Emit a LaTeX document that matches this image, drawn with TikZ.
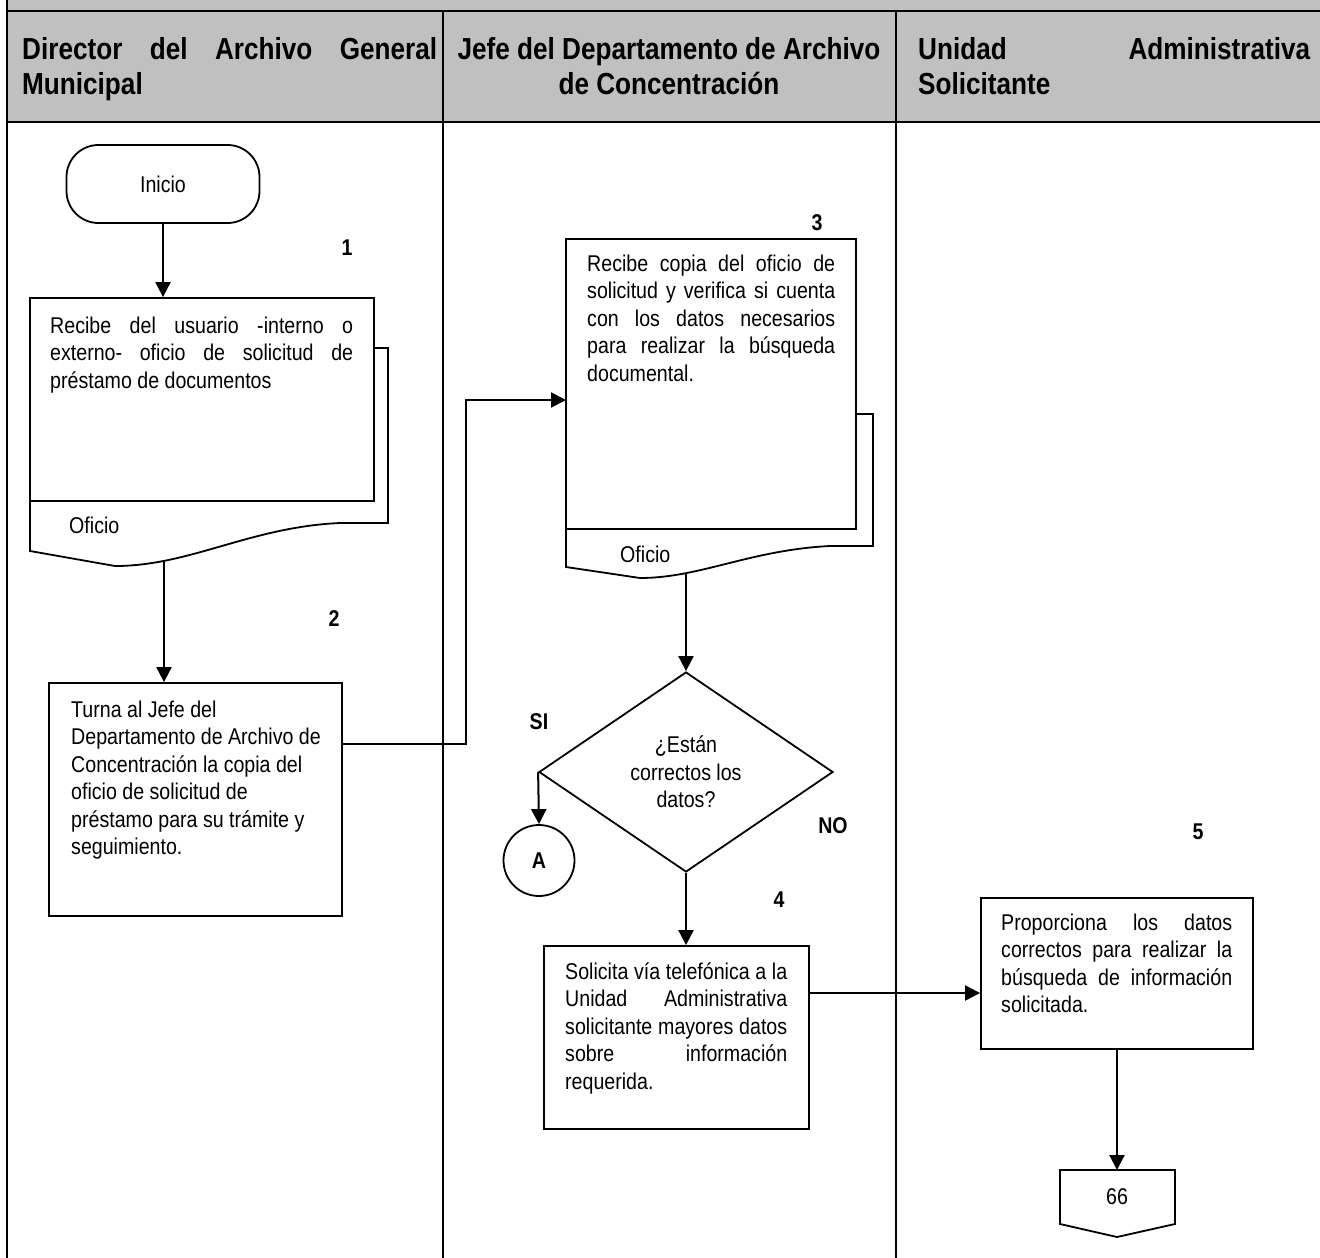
\documentclass[tikz,border=0pt]{standalone}
\usepackage{fontspec}
\newfontfamily\nar{Liberation Sans}[FakeStretch=0.86]
\usetikzlibrary{arrows.meta,shapes.geometric}
\definecolor{hdr}{RGB}{192,192,192}
\newcommand\jl[2]{\makebox[#1][s]{#2}}
\begin{document}
\begin{tikzpicture}[x=1pt,y=-1pt,
  body/.style={font=\nar\fontsize{22.8}{27.5}\selectfont, inner sep=0pt},
  hd/.style={font=\nar\bfseries\fontsize{30.4}{35}\selectfont, inner sep=0pt},
  num/.style={font=\nar\bfseries\fontsize{22.8}{27.5}\selectfont, inner sep=0pt},
  frame/.style={line width=2.6pt},
  shp/.style={line width=1.8pt},
  box/.style 2 args={draw, line width=1.8pt, minimum width=#1, minimum height=#2, inner sep=0pt},
  arr/.style={line width=2pt, -{Triangle[length=15pt,width=15pt]}},
  txt/.style={body, align=left, anchor=north west}]
\useasboundingbox (0,0) rectangle (1320,1258);
% frame
\fill[hdr] (7,0) rectangle (1320,122);
\draw[frame] (7,0) -- (7,1258);
\draw[frame] (7,11) -- (1320,11);
\draw[frame] (7,122) -- (1320,122);
\draw[frame] (443,11) -- (443,1258);
\draw[frame] (896,11) -- (896,1258);
% headers
\node[hd, align=left, anchor=north west] (h1) at (22,34.5) {\strut\jl{415pt}{Director del Archivo General}\\Municipal};
\node[hd, align=center, anchor=north] (h2) at (669,34.5) {\strut Jefe del Departamento de Archivo\\de Concentración};
\node[hd, align=left, anchor=north west] (h3) at (918,34.5) {\strut\jl{392pt}{Unidad Administrativa}\\Solicitante};
% lane 1
\node[draw, line width=1.8pt, rounded corners=32pt, minimum width=193pt, minimum height=78pt, body] (inicio) at (163,184) {Inicio};
\node[num] (n1) at (347,248) {1};
\node[box={344pt}{203pt}] (d1) at (202,399.5) {};
\draw[shp] (374,348) -- (388,348) -- (388,523) -- (340,523) .. controls (250,527) and (190,566) .. (115,566) -- (30,551) -- (30,501);
\coordinate (d1b) at (164,561);
\node[txt] (t1) at (50,314) {\strut\jl{303pt}{Recibe del usuario -interno o}\\\jl{303pt}{externo- oficio de solicitud de}\\préstamo de documentos};
\node[body, anchor=base west] (o1) at (69,533) {Oficio};
\node[num] (n2) at (334,619) {2};
\node[box={293pt}{233pt}] (b2) at (195.5,799.5) {};
\node[txt] (t2) at (71,698) {\strut Turna al Jefe del\\Departamento de Archivo de\\Concentración la copia del\\oficio de solicitud de\\préstamo para su trámite y\\seguimiento.};
\draw[arr] (inicio.south) -- (inicio.south |- d1.north);
\draw[arr] (d1b) -- (d1b |- b2.north);
% lane 2
\node[num] (n3) at (817,223) {3};
\node[box={290pt}{290pt}] (d3) at (711,384) {};
\draw[shp] (856,414) -- (873,414) -- (873,546) -- (830,546) .. controls (750,550) and (700,578) .. (640,578) -- (566,567) -- (566,529);
\coordinate (d3b) at (686,574);
\node[txt] (t3) at (587,252) {\strut\jl{248pt}{Recibe copia del oficio de}\\\jl{248pt}{solicitud y verifica si cuenta}\\\jl{248pt}{con los datos necesarios}\\\jl{248pt}{para realizar la búsqueda}\\documental.};
\node[body, anchor=base west] (o3) at (620,562) {Oficio};
\coordinate (j1) at (466,744);
\coordinate (d3in) at (566,400);
\draw[arr] (b2.east |- j1) -- (j1) |- (d3in);
\node[draw, diamond, line width=1.8pt, minimum width=294pt, minimum height=200pt, aspect=1.47, inner sep=0pt, body, align=center] (dia) at (686,772) {¿Están\\correctos los\\datos?};
\draw[arr] (d3b) -- (d3b |- dia.north);
\node[num] (si) at (539,722) {SI};
\node[num] (no) at (833,826) {NO};
\node[draw, circle, line width=1.8pt, minimum size=71pt, inner sep=0pt, num] (A) at (539,860.5) {A};
\draw[arr] (dia.west) -- (A.north);
\node[num] (n4) at (779,900) {4};
\node[box={265pt}{183pt}] (b4) at (676.5,1037.5) {};
\node[txt] (t4) at (565,960) {\strut\jl{222pt}{Solicita vía telefónica a la}\\\jl{222pt}{Unidad Administrativa}\\\jl{222pt}{solicitante mayores datos}\\\jl{222pt}{sobre información}\\requerida.};
\draw[arr] (dia.south) -- (dia.south |- b4.north);
% lane 3
\node[num] (n5) at (1198,832) {5};
\node[box={272pt}{151pt}] (b5) at (1117,973.5) {};
\node[txt] (t5) at (1001,911) {\strut\jl{231pt}{Proporciona los datos}\\\jl{231pt}{correctos para realizar la}\\\jl{231pt}{búsqueda de información}\\solicitada.};
\coordinate (c4) at (809,993);
\draw[arr] (c4) -- (c4 -| b5.west);
\coordinate (offtop) at (1117,1170);
\draw[shp] (1060,1170) -- (1175,1170) -- (1175,1224) -- (1117,1237) -- (1060,1224) -- cycle;
\node[body] (off) at (1117,1197) {66};
\draw[arr] (b5.south) -- (offtop);
\end{tikzpicture}
\end{document}
